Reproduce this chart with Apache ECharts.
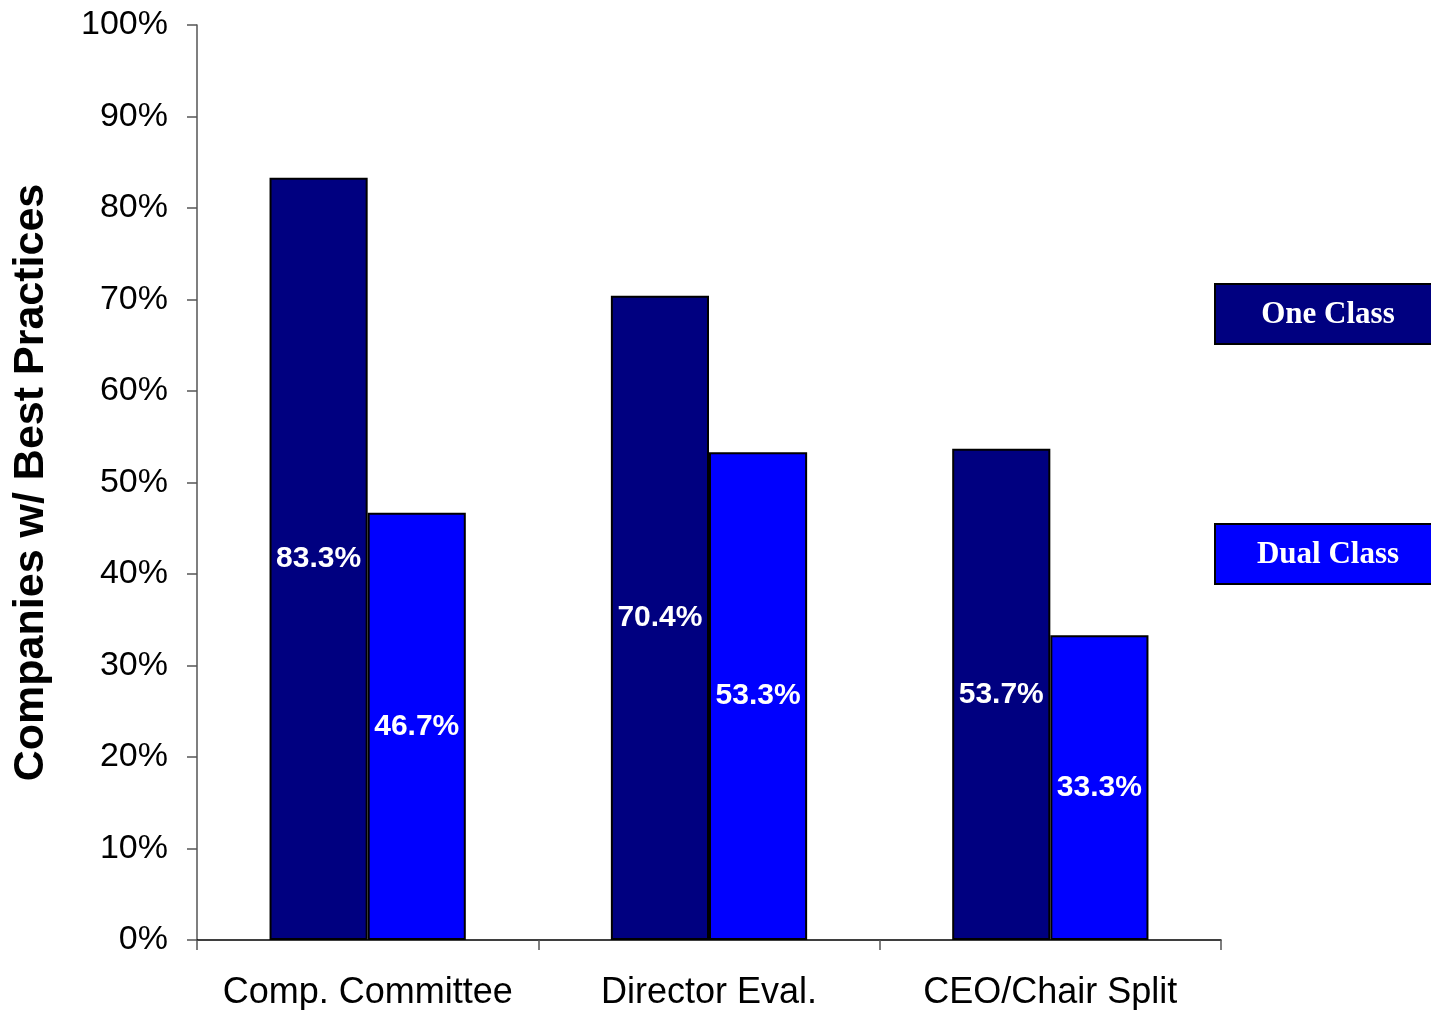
<!DOCTYPE html>
<html>
<head>
<meta charset="utf-8">
<script src="https://cdn.jsdelivr.net/npm/echarts@6/dist/echarts.min.js"></script>
<style>
  html, body { margin: 0; padding: 0; background: #ffffff; }
  #chart { width: 1431px; height: 1010px; }
</style>
</head>
<body>
<div id="chart"></div>
<script>
// Share of companies following each governance best practice, by share structure
const categories = ['Comp. Committee', 'Director Eval.', 'CEO/Chair Split'];
const seriesNames = ['One Class', 'Dual Class'];
const oneClass = [83.3, 70.4, 53.7];
const dualClass = [46.7, 53.3, 33.3];
const seriesColors = ['#000080', '#0000FF'];
const yTicks = { min: 0, max: 100, interval: 10 };

const sans = '"Liberation Sans", Arial, sans-serif';
const serif = '"Liberation Serif", "Times New Roman", serif';

const chart = echarts.init(document.getElementById('chart'), null, { renderer: 'canvas' });

function barSeries(name, values, color) {
  return {
    name: name,
    type: 'bar',
    data: values,
    barGap: '0%',
    barCategoryGap: '42.5%',
    itemStyle: { color: color, borderColor: '#000000', borderWidth: 2 },
    label: {
      show: true,
      position: 'inside',
      color: '#ffffff',
      fontFamily: sans,
      fontWeight: 'bold',
      fontSize: 30,
      formatter: p => p.value.toFixed(1) + '%'
    },
    emphasis: { disabled: true }
  };
}

// Legend boxes on the right, one per series
const legendTops = [283, 523];
const legendGraphics = seriesNames.map((name, i) => ({
  type: 'group',
  left: 1214,
  top: legendTops[i],
  children: [
    {
      type: 'rect',
      shape: { x: 0, y: 0, width: 230, height: 60 },
      style: { fill: seriesColors[i], stroke: '#000000', lineWidth: 2 }
    },
    {
      type: 'text',
      x: 113,
      y: 31,
      style: {
        text: name,
        fill: '#ffffff',
        font: 'bold 31px ' + serif,
        textAlign: 'center',
        textVerticalAlign: 'middle'
      }
    }
  ]
}));

chart.setOption({
  animation: false,
  backgroundColor: '#ffffff',
  grid: { left: 197, right: 210, top: 25, bottom: 70, containLabel: false, outerBoundsMode: 'none' },
  xAxis: {
    type: 'category',
    data: categories,
    axisLine: { show: true, lineStyle: { color: '#000000', width: 1.5 } },
    axisTick: { show: true, length: 10, alignWithLabel: false, lineStyle: { color: '#555555', width: 1.5 } },
    axisLabel: { color: '#000000', fontFamily: sans, fontSize: 36, margin: 35, interval: 0, hideOverlap: false },
    splitLine: { show: false }
  },
  yAxis: {
    type: 'value',
    min: yTicks.min,
    max: yTicks.max,
    interval: yTicks.interval,
    name: 'Companies w/ Best Practices',
    nameLocation: 'middle',
    nameGap: 144,
    nameTextStyle: { color: '#000000', fontFamily: sans, fontWeight: 'bold', fontSize: 43 },
    axisLine: { show: true, lineStyle: { color: '#555555', width: 1.5 } },
    axisTick: { show: true, length: 10, lineStyle: { color: '#555555', width: 1.5 } },
    axisLabel: { color: '#000000', fontFamily: sans, fontSize: 34, margin: 29, formatter: v => v + '%' },
    splitLine: { show: false }
  },
  series: [
    barSeries(seriesNames[0], oneClass, seriesColors[0]),
    barSeries(seriesNames[1], dualClass, seriesColors[1])
  ],
  graphic: legendGraphics
});
</script>
</body>
</html>
